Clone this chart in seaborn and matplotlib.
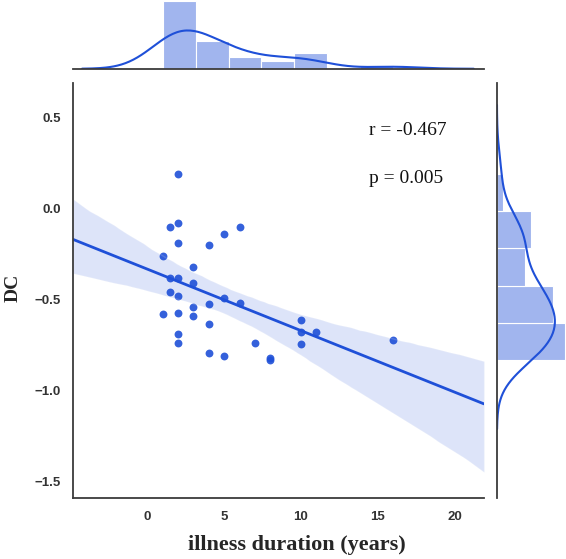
import numpy as np
import matplotlib
matplotlib.use("Agg")
import matplotlib.pyplot as plt
import seaborn as sns

# illness duration (years) vs DC
duration = [2, 1.5, 2, 6, 5, 2, 4, 1, 3, 1.5, 2, 3, 1.5, 2, 5, 6, 4, 3, 1, 2,
            3, 4, 2, 2, 7, 4, 5, 10, 10, 11, 10, 8, 8, 16]
dc = [0.19, -0.10, -0.08, -0.10, -0.14, -0.19, -0.20, -0.26, -0.32, -0.38,
      -0.38, -0.41, -0.46, -0.48, -0.49, -0.515, -0.525, -0.54, -0.58, -0.57,
      -0.59, -0.635, -0.69, -0.735, -0.74, -0.79, -0.81, -0.61, -0.675, -0.675,
      -0.745, -0.82, -0.83, -0.72]
x_ticks = [0, 5, 10, 15, 20]
y_ticks = [0.5, 0.0, -0.5, -1.0, -1.5]
stats_text = ["r = -0.467", "p = 0.005"]

sns.set_theme(style="white")
plt.rcParams['font.family'] = ['Liberation Sans', 'DejaVu Sans']
serif = ["Liberation Serif", "DejaVu Serif"]

blue = "#1f50d8"
spine_col = "#3c3c3c"
xlim = (-4.83, 21.9)
ylim = (-1.59, 0.69)

fig = plt.figure(figsize=(5.66, 5.59), dpi=100)
ax = fig.add_axes([0.129, 0.109, 0.726, 0.742])
ax_top = fig.add_axes([0.129, 0.877, 0.726, 0.123], sharex=ax)
ax_right = fig.add_axes([0.878, 0.109, 0.122, 0.742], sharey=ax)

# main scatter + regression (xlim first so the fit spans the whole axis)
ax.set_xlim(*xlim)
sns.regplot(x=duration, y=dc, ax=ax, color=blue, truncate=False,
            scatter_kws={"s": 32, "alpha": 0.9, "linewidths": 0},
            line_kws={"linewidth": 2})
ax.set_xlim(*xlim)
ax.set_ylim(*ylim)
ax.set_xticks(x_ticks)
ax.set_yticks(y_ticks)
ax.tick_params(axis="both", length=0, labelsize=9.5, colors="#333333", pad=9)
for lab in ax.get_xticklabels() + ax.get_yticklabels():
    lab.set_fontweight("bold")

ax.set_xlabel("illness duration (years)", fontsize=16, fontweight="bold",
              family=serif)
ax.xaxis.set_label_coords(0.545, -0.088)
ax.set_ylabel("DC", fontsize=14, fontweight="bold", family=serif)
ax.yaxis.set_label_coords(-0.125, 0.506)

ax.text(14.4, 0.407, stats_text[0], fontsize=14, va="baseline",
        family=serif, color="#111111")
ax.text(14.4, 0.141, stats_text[1], fontsize=14, va="baseline",
        family=serif, color="#111111")

sns.despine(ax=ax)
for s in ["left", "bottom"]:
    ax.spines[s].set_color(spine_col)
    ax.spines[s].set_linewidth(1.3)

# marginal histograms with kde
sns.histplot(x=duration, bins=7, stat="density", kde=True, ax=ax_top,
             color=blue, alpha=0.42, edgecolor="white", linewidth=0.8,
             kde_kws={"cut": 3}, line_kws={"linewidth": 1.5})
ax_top.set_ylim(0, 0.237)
sns.despine(ax=ax_top, left=True)
ax_top.spines["bottom"].set_color(spine_col)
ax_top.spines["bottom"].set_linewidth(1.3)
ax_top.set_xlabel("")
ax_top.set_ylabel("")
ax_top.tick_params(left=False, bottom=False, labelleft=False, labelbottom=False)

sns.histplot(y=dc, bins=5, stat="density", kde=True, ax=ax_right,
             color=blue, alpha=0.42, edgecolor="white", linewidth=0.8,
             kde_kws={"cut": 3}, line_kws={"linewidth": 1.5})
ax_right.set_xlim(0, 1.763)
sns.despine(ax=ax_right, bottom=True)
ax_right.spines["left"].set_color(spine_col)
ax_right.spines["left"].set_linewidth(1.3)
ax_right.set_xlabel("")
ax_right.set_ylabel("")
ax_right.tick_params(left=False, bottom=False, labelleft=False, labelbottom=False)

ax.set_xlim(*xlim)
ax.set_ylim(*ylim)

fig.savefig("out.png", dpi=100)
